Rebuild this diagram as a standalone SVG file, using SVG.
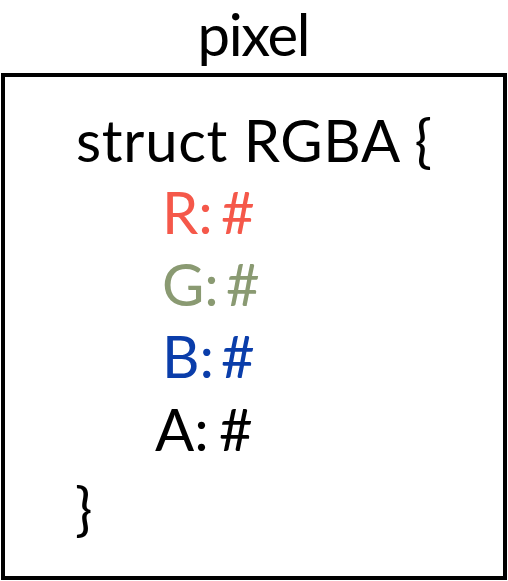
<svg xmlns="http://www.w3.org/2000/svg" width="508" height="581" viewBox="0 0 508 581">
<style>
text{font-family:Lato,"Open Sans",sans-serif;font-size:58px;fill:#000}
.r{fill:#F5584A}.g{fill:#8A9A72}.b{fill:#0A3DAA}
</style>
<rect width="508" height="581" fill="#fff"/>
<g id="pixel">
<text x="254" y="56" text-anchor="middle" font-size="54" textLength="113">pixel</text>
<rect x="3" y="75" width="502" height="503" fill="none" stroke="#000" stroke-width="4"/>
</g>
<g id="struct">
<text x="76" y="162" textLength="356">struct RGBA {</text>
<text x="162" y="234" class="r">R:<tspan x="221">#</tspan></text>
<text x="162" y="306" class="g">G:<tspan x="226">#</tspan></text>
<text x="162" y="378" class="b">B:<tspan x="221">#</tspan></text>
<text x="155" y="451">A:<tspan x="219">#</tspan></text>
<text x="75" y="530">}</text>
</g>
<g id="connectors"/>
</svg>
